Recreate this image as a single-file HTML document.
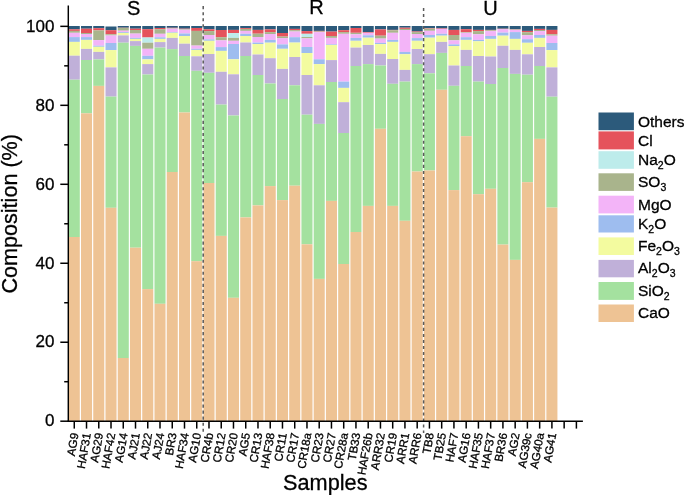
<!DOCTYPE html><html><head><meta charset="utf-8"><style>
html,body{margin:0;padding:0;background:#fff;}body{width:685px;height:495px;overflow:hidden;}
svg{display:block;font-family:"Liberation Sans",sans-serif;will-change:transform;}text{stroke:#000;stroke-width:0.3px;}
</style></head><body>
<svg width="685" height="495" viewBox="0 0 685 495">
<g shape-rendering="auto">
<rect x="68.75" y="26.00" width="11.05" height="3.30" fill="#2c5a7b"/>
<rect x="68.75" y="29.30" width="11.05" height="1.60" fill="#e5535c"/>
<rect x="68.75" y="30.90" width="11.05" height="1.90" fill="#a9b48c"/>
<rect x="68.75" y="32.80" width="11.05" height="4.30" fill="#f3b4f8"/>
<rect x="68.75" y="37.10" width="11.05" height="4.80" fill="#9ebdef"/>
<rect x="68.75" y="41.90" width="11.05" height="13.80" fill="#f3fb9f"/>
<rect x="68.75" y="55.70" width="11.05" height="24.00" fill="#c0b0d9"/>
<rect x="68.75" y="79.70" width="11.05" height="157.30" fill="#a4e19f"/>
<rect x="68.75" y="237.00" width="11.05" height="184.20" fill="#eec394"/>
<rect x="81.00" y="26.00" width="11.05" height="2.70" fill="#2c5a7b"/>
<rect x="81.00" y="28.70" width="11.05" height="4.30" fill="#e5535c"/>
<rect x="81.00" y="33.00" width="11.05" height="1.00" fill="#a9b48c"/>
<rect x="81.00" y="34.00" width="11.05" height="3.10" fill="#f3b4f8"/>
<rect x="81.00" y="37.10" width="11.05" height="2.80" fill="#9ebdef"/>
<rect x="81.00" y="39.90" width="11.05" height="9.00" fill="#f3fb9f"/>
<rect x="81.00" y="48.90" width="11.05" height="11.10" fill="#c0b0d9"/>
<rect x="81.00" y="60.00" width="11.05" height="53.30" fill="#a4e19f"/>
<rect x="81.00" y="113.30" width="11.05" height="307.90" fill="#eec394"/>
<rect x="93.24" y="26.00" width="11.05" height="2.20" fill="#2c5a7b"/>
<rect x="93.24" y="28.20" width="11.05" height="2.20" fill="#e5535c"/>
<rect x="93.24" y="30.40" width="11.05" height="9.70" fill="#a9b48c"/>
<rect x="93.24" y="40.10" width="11.05" height="5.60" fill="#f3b4f8"/>
<rect x="93.24" y="45.70" width="11.05" height="1.10" fill="#9ebdef"/>
<rect x="93.24" y="46.80" width="11.05" height="5.10" fill="#f3fb9f"/>
<rect x="93.24" y="51.90" width="11.05" height="7.50" fill="#c0b0d9"/>
<rect x="93.24" y="59.40" width="11.05" height="26.50" fill="#a4e19f"/>
<rect x="93.24" y="85.90" width="11.05" height="335.30" fill="#eec394"/>
<rect x="105.49" y="26.50" width="11.05" height="3.70" fill="#2c5a7b"/>
<rect x="105.49" y="30.20" width="11.05" height="4.10" fill="#e5535c"/>
<rect x="105.49" y="34.30" width="11.05" height="1.20" fill="#a9b48c"/>
<rect x="105.49" y="35.50" width="11.05" height="7.50" fill="#f3b4f8"/>
<rect x="105.49" y="43.00" width="11.05" height="7.10" fill="#9ebdef"/>
<rect x="105.49" y="50.10" width="11.05" height="17.30" fill="#f3fb9f"/>
<rect x="105.49" y="67.40" width="11.05" height="29.20" fill="#c0b0d9"/>
<rect x="105.49" y="96.60" width="11.05" height="111.20" fill="#a4e19f"/>
<rect x="105.49" y="207.80" width="11.05" height="213.40" fill="#eec394"/>
<rect x="117.74" y="26.00" width="11.05" height="1.70" fill="#2c5a7b"/>
<rect x="117.74" y="27.70" width="11.05" height="0.20" fill="#e5535c"/>
<rect x="117.74" y="27.90" width="11.05" height="2.80" fill="#a9b48c"/>
<rect x="117.74" y="30.70" width="11.05" height="1.30" fill="#f3b4f8"/>
<rect x="117.74" y="32.00" width="11.05" height="0.90" fill="#9ebdef"/>
<rect x="117.74" y="32.90" width="11.05" height="2.50" fill="#f3fb9f"/>
<rect x="117.74" y="35.40" width="11.05" height="7.30" fill="#c0b0d9"/>
<rect x="117.74" y="42.70" width="11.05" height="315.30" fill="#a4e19f"/>
<rect x="117.74" y="358.00" width="11.05" height="63.20" fill="#eec394"/>
<rect x="129.98" y="26.00" width="11.05" height="2.70" fill="#2c5a7b"/>
<rect x="129.98" y="28.70" width="11.05" height="1.30" fill="#e5535c"/>
<rect x="129.98" y="30.00" width="11.05" height="3.60" fill="#a9b48c"/>
<rect x="129.98" y="33.60" width="11.05" height="4.30" fill="#f3b4f8"/>
<rect x="129.98" y="37.90" width="11.05" height="1.00" fill="#9ebdef"/>
<rect x="129.98" y="38.90" width="11.05" height="2.20" fill="#f3fb9f"/>
<rect x="129.98" y="41.10" width="11.05" height="4.80" fill="#c0b0d9"/>
<rect x="129.98" y="45.90" width="11.05" height="201.80" fill="#a4e19f"/>
<rect x="129.98" y="247.70" width="11.05" height="173.50" fill="#eec394"/>
<rect x="142.23" y="26.00" width="11.05" height="3.20" fill="#2c5a7b"/>
<rect x="142.23" y="29.20" width="11.05" height="8.30" fill="#e5535c"/>
<rect x="142.23" y="37.50" width="11.05" height="5.20" fill="#bdeceb"/>
<rect x="142.23" y="42.70" width="11.05" height="6.10" fill="#a9b48c"/>
<rect x="142.23" y="48.80" width="11.05" height="7.00" fill="#f3b4f8"/>
<rect x="142.23" y="55.80" width="11.05" height="3.60" fill="#9ebdef"/>
<rect x="142.23" y="59.40" width="11.05" height="4.70" fill="#f3fb9f"/>
<rect x="142.23" y="64.10" width="11.05" height="10.40" fill="#c0b0d9"/>
<rect x="142.23" y="74.50" width="11.05" height="214.60" fill="#a4e19f"/>
<rect x="142.23" y="289.10" width="11.05" height="132.10" fill="#eec394"/>
<rect x="154.48" y="26.00" width="11.05" height="2.00" fill="#2c5a7b"/>
<rect x="154.48" y="28.00" width="11.05" height="1.30" fill="#e5535c"/>
<rect x="154.48" y="29.30" width="11.05" height="4.50" fill="#a9b48c"/>
<rect x="154.48" y="33.80" width="11.05" height="3.50" fill="#f3b4f8"/>
<rect x="154.48" y="37.30" width="11.05" height="1.60" fill="#9ebdef"/>
<rect x="154.48" y="38.90" width="11.05" height="3.20" fill="#f3fb9f"/>
<rect x="154.48" y="42.10" width="11.05" height="5.50" fill="#c0b0d9"/>
<rect x="154.48" y="47.60" width="11.05" height="256.20" fill="#a4e19f"/>
<rect x="154.48" y="303.80" width="11.05" height="117.40" fill="#eec394"/>
<rect x="166.73" y="26.00" width="11.05" height="1.80" fill="#2c5a7b"/>
<rect x="166.73" y="27.80" width="11.05" height="0.40" fill="#e5535c"/>
<rect x="166.73" y="28.20" width="11.05" height="0.50" fill="#a9b48c"/>
<rect x="166.73" y="28.70" width="11.05" height="3.40" fill="#f3b4f8"/>
<rect x="166.73" y="32.10" width="11.05" height="0.70" fill="#9ebdef"/>
<rect x="166.73" y="32.80" width="11.05" height="5.10" fill="#f3fb9f"/>
<rect x="166.73" y="37.90" width="11.05" height="11.20" fill="#c0b0d9"/>
<rect x="166.73" y="49.10" width="11.05" height="122.90" fill="#a4e19f"/>
<rect x="166.73" y="172.00" width="11.05" height="249.20" fill="#eec394"/>
<rect x="178.97" y="26.00" width="11.05" height="2.70" fill="#2c5a7b"/>
<rect x="178.97" y="28.70" width="11.05" height="0.30" fill="#e5535c"/>
<rect x="178.97" y="29.00" width="11.05" height="0.70" fill="#a9b48c"/>
<rect x="178.97" y="29.70" width="11.05" height="3.80" fill="#f3b4f8"/>
<rect x="178.97" y="33.50" width="11.05" height="2.50" fill="#9ebdef"/>
<rect x="178.97" y="36.00" width="11.05" height="7.70" fill="#f3fb9f"/>
<rect x="178.97" y="43.70" width="11.05" height="12.30" fill="#c0b0d9"/>
<rect x="178.97" y="56.00" width="11.05" height="56.50" fill="#a4e19f"/>
<rect x="178.97" y="112.50" width="11.05" height="308.70" fill="#eec394"/>
<rect x="191.22" y="26.00" width="11.05" height="2.00" fill="#2c5a7b"/>
<rect x="191.22" y="28.00" width="11.05" height="2.90" fill="#e5535c"/>
<rect x="191.22" y="30.90" width="11.05" height="14.70" fill="#a9b48c"/>
<rect x="191.22" y="45.60" width="11.05" height="3.20" fill="#f3b4f8"/>
<rect x="191.22" y="48.80" width="11.05" height="1.10" fill="#9ebdef"/>
<rect x="191.22" y="49.90" width="11.05" height="6.40" fill="#f3fb9f"/>
<rect x="191.22" y="56.30" width="11.05" height="14.50" fill="#c0b0d9"/>
<rect x="191.22" y="70.80" width="11.05" height="190.40" fill="#a4e19f"/>
<rect x="191.22" y="261.20" width="11.05" height="160.00" fill="#eec394"/>
<rect x="203.47" y="26.00" width="11.05" height="3.30" fill="#2c5a7b"/>
<rect x="203.47" y="29.30" width="11.05" height="1.80" fill="#e5535c"/>
<rect x="203.47" y="31.10" width="11.05" height="3.90" fill="#a9b48c"/>
<rect x="203.47" y="35.00" width="11.05" height="4.40" fill="#f3b4f8"/>
<rect x="203.47" y="39.40" width="11.05" height="1.40" fill="#9ebdef"/>
<rect x="203.47" y="40.80" width="11.05" height="13.20" fill="#f3fb9f"/>
<rect x="203.47" y="54.00" width="11.05" height="18.80" fill="#c0b0d9"/>
<rect x="203.47" y="72.80" width="11.05" height="110.20" fill="#a4e19f"/>
<rect x="203.47" y="183.00" width="11.05" height="238.20" fill="#eec394"/>
<rect x="215.71" y="26.00" width="11.05" height="4.00" fill="#2c5a7b"/>
<rect x="215.71" y="30.00" width="11.05" height="7.20" fill="#e5535c"/>
<rect x="215.71" y="37.20" width="11.05" height="3.20" fill="#a9b48c"/>
<rect x="215.71" y="40.40" width="11.05" height="6.70" fill="#f3b4f8"/>
<rect x="215.71" y="47.10" width="11.05" height="3.80" fill="#9ebdef"/>
<rect x="215.71" y="50.90" width="11.05" height="20.90" fill="#f3fb9f"/>
<rect x="215.71" y="71.80" width="11.05" height="32.80" fill="#c0b0d9"/>
<rect x="215.71" y="104.60" width="11.05" height="131.30" fill="#a4e19f"/>
<rect x="215.71" y="235.90" width="11.05" height="185.30" fill="#eec394"/>
<rect x="227.96" y="26.00" width="11.05" height="3.90" fill="#2c5a7b"/>
<rect x="227.96" y="29.90" width="11.05" height="3.20" fill="#e5535c"/>
<rect x="227.96" y="33.10" width="11.05" height="4.80" fill="#bdeceb"/>
<rect x="227.96" y="37.90" width="11.05" height="2.90" fill="#a9b48c"/>
<rect x="227.96" y="40.80" width="11.05" height="3.20" fill="#f3b4f8"/>
<rect x="227.96" y="44.00" width="11.05" height="15.30" fill="#9ebdef"/>
<rect x="227.96" y="59.30" width="11.05" height="15.00" fill="#f3fb9f"/>
<rect x="227.96" y="74.30" width="11.05" height="41.20" fill="#c0b0d9"/>
<rect x="227.96" y="115.50" width="11.05" height="182.30" fill="#a4e19f"/>
<rect x="227.96" y="297.80" width="11.05" height="123.40" fill="#eec394"/>
<rect x="240.21" y="26.00" width="11.05" height="2.00" fill="#2c5a7b"/>
<rect x="240.21" y="28.00" width="11.05" height="0.90" fill="#e5535c"/>
<rect x="240.21" y="28.90" width="11.05" height="2.00" fill="#a9b48c"/>
<rect x="240.21" y="30.90" width="11.05" height="2.90" fill="#f3b4f8"/>
<rect x="240.21" y="33.80" width="11.05" height="2.20" fill="#9ebdef"/>
<rect x="240.21" y="36.00" width="11.05" height="6.50" fill="#f3fb9f"/>
<rect x="240.21" y="42.50" width="11.05" height="13.50" fill="#c0b0d9"/>
<rect x="240.21" y="56.00" width="11.05" height="161.40" fill="#a4e19f"/>
<rect x="240.21" y="217.40" width="11.05" height="203.80" fill="#eec394"/>
<rect x="252.45" y="26.00" width="11.05" height="3.90" fill="#2c5a7b"/>
<rect x="252.45" y="29.90" width="11.05" height="3.80" fill="#e5535c"/>
<rect x="252.45" y="33.70" width="11.05" height="3.30" fill="#a9b48c"/>
<rect x="252.45" y="37.00" width="11.05" height="5.60" fill="#f3b4f8"/>
<rect x="252.45" y="42.60" width="11.05" height="1.40" fill="#9ebdef"/>
<rect x="252.45" y="44.00" width="11.05" height="10.50" fill="#f3fb9f"/>
<rect x="252.45" y="54.50" width="11.05" height="20.50" fill="#c0b0d9"/>
<rect x="252.45" y="75.00" width="11.05" height="130.40" fill="#a4e19f"/>
<rect x="252.45" y="205.40" width="11.05" height="215.80" fill="#eec394"/>
<rect x="264.70" y="26.00" width="11.05" height="3.40" fill="#2c5a7b"/>
<rect x="264.70" y="29.40" width="11.05" height="2.70" fill="#e5535c"/>
<rect x="264.70" y="32.10" width="11.05" height="1.90" fill="#a9b48c"/>
<rect x="264.70" y="34.00" width="11.05" height="5.90" fill="#f3b4f8"/>
<rect x="264.70" y="39.90" width="11.05" height="2.80" fill="#9ebdef"/>
<rect x="264.70" y="42.70" width="11.05" height="15.50" fill="#f3fb9f"/>
<rect x="264.70" y="58.20" width="11.05" height="25.30" fill="#c0b0d9"/>
<rect x="264.70" y="83.50" width="11.05" height="102.60" fill="#a4e19f"/>
<rect x="264.70" y="186.10" width="11.05" height="235.10" fill="#eec394"/>
<rect x="276.95" y="26.00" width="11.05" height="7.00" fill="#2c5a7b"/>
<rect x="276.95" y="33.00" width="11.05" height="3.60" fill="#e5535c"/>
<rect x="276.95" y="36.60" width="11.05" height="1.50" fill="#a9b48c"/>
<rect x="276.95" y="38.10" width="11.05" height="6.30" fill="#f3b4f8"/>
<rect x="276.95" y="44.40" width="11.05" height="4.40" fill="#9ebdef"/>
<rect x="276.95" y="48.80" width="11.05" height="20.10" fill="#f3fb9f"/>
<rect x="276.95" y="68.90" width="11.05" height="30.10" fill="#c0b0d9"/>
<rect x="276.95" y="99.00" width="11.05" height="101.10" fill="#a4e19f"/>
<rect x="276.95" y="200.10" width="11.05" height="221.10" fill="#eec394"/>
<rect x="289.20" y="26.00" width="11.05" height="2.90" fill="#2c5a7b"/>
<rect x="289.20" y="28.90" width="11.05" height="1.30" fill="#e5535c"/>
<rect x="289.20" y="30.20" width="11.05" height="1.30" fill="#a9b48c"/>
<rect x="289.20" y="31.50" width="11.05" height="5.70" fill="#f3b4f8"/>
<rect x="289.20" y="37.20" width="11.05" height="5.40" fill="#9ebdef"/>
<rect x="289.20" y="42.60" width="11.05" height="14.40" fill="#f3fb9f"/>
<rect x="289.20" y="57.00" width="11.05" height="28.30" fill="#c0b0d9"/>
<rect x="289.20" y="85.30" width="11.05" height="100.40" fill="#a4e19f"/>
<rect x="289.20" y="185.70" width="11.05" height="235.50" fill="#eec394"/>
<rect x="301.44" y="26.00" width="11.05" height="5.10" fill="#2c5a7b"/>
<rect x="301.44" y="31.10" width="11.05" height="2.70" fill="#e5535c"/>
<rect x="301.44" y="33.80" width="11.05" height="3.20" fill="#bdeceb"/>
<rect x="301.44" y="37.00" width="11.05" height="1.40" fill="#a9b48c"/>
<rect x="301.44" y="38.40" width="11.05" height="8.60" fill="#f3b4f8"/>
<rect x="301.44" y="47.00" width="11.05" height="6.00" fill="#9ebdef"/>
<rect x="301.44" y="53.00" width="11.05" height="22.00" fill="#f3fb9f"/>
<rect x="301.44" y="75.00" width="11.05" height="39.70" fill="#c0b0d9"/>
<rect x="301.44" y="114.70" width="11.05" height="129.60" fill="#a4e19f"/>
<rect x="301.44" y="244.30" width="11.05" height="176.90" fill="#eec394"/>
<rect x="313.69" y="26.00" width="11.05" height="4.90" fill="#2c5a7b"/>
<rect x="313.69" y="30.90" width="11.05" height="0.60" fill="#e5535c"/>
<rect x="313.69" y="31.50" width="11.05" height="0.60" fill="#a9b48c"/>
<rect x="313.69" y="32.10" width="11.05" height="27.20" fill="#f3b4f8"/>
<rect x="313.69" y="59.30" width="11.05" height="4.80" fill="#9ebdef"/>
<rect x="313.69" y="64.10" width="11.05" height="21.20" fill="#f3fb9f"/>
<rect x="313.69" y="85.30" width="11.05" height="38.60" fill="#c0b0d9"/>
<rect x="313.69" y="123.90" width="11.05" height="155.00" fill="#a4e19f"/>
<rect x="313.69" y="278.90" width="11.05" height="142.30" fill="#eec394"/>
<rect x="325.94" y="26.00" width="11.05" height="5.60" fill="#2c5a7b"/>
<rect x="325.94" y="31.60" width="11.05" height="4.40" fill="#e5535c"/>
<rect x="325.94" y="36.00" width="11.05" height="1.90" fill="#a9b48c"/>
<rect x="325.94" y="37.90" width="11.05" height="6.50" fill="#f3b4f8"/>
<rect x="325.94" y="44.40" width="11.05" height="0.60" fill="#9ebdef"/>
<rect x="325.94" y="45.00" width="11.05" height="15.10" fill="#f3fb9f"/>
<rect x="325.94" y="60.10" width="11.05" height="21.90" fill="#c0b0d9"/>
<rect x="325.94" y="82.00" width="11.05" height="118.90" fill="#a4e19f"/>
<rect x="325.94" y="200.90" width="11.05" height="220.30" fill="#eec394"/>
<rect x="338.18" y="26.00" width="11.05" height="4.20" fill="#2c5a7b"/>
<rect x="338.18" y="30.20" width="11.05" height="1.90" fill="#e5535c"/>
<rect x="338.18" y="32.10" width="11.05" height="1.70" fill="#a9b48c"/>
<rect x="338.18" y="33.80" width="11.05" height="47.80" fill="#f3b4f8"/>
<rect x="338.18" y="81.60" width="11.05" height="6.30" fill="#9ebdef"/>
<rect x="338.18" y="87.90" width="11.05" height="14.30" fill="#f3fb9f"/>
<rect x="338.18" y="102.20" width="11.05" height="30.80" fill="#c0b0d9"/>
<rect x="338.18" y="133.00" width="11.05" height="131.00" fill="#a4e19f"/>
<rect x="338.18" y="264.00" width="11.05" height="157.20" fill="#eec394"/>
<rect x="350.43" y="26.00" width="11.05" height="2.00" fill="#2c5a7b"/>
<rect x="350.43" y="28.00" width="11.05" height="4.80" fill="#e5535c"/>
<rect x="350.43" y="32.80" width="11.05" height="1.50" fill="#a9b48c"/>
<rect x="350.43" y="34.30" width="11.05" height="3.60" fill="#f3b4f8"/>
<rect x="350.43" y="37.90" width="11.05" height="2.90" fill="#9ebdef"/>
<rect x="350.43" y="40.80" width="11.05" height="6.80" fill="#f3fb9f"/>
<rect x="350.43" y="47.60" width="11.05" height="18.40" fill="#c0b0d9"/>
<rect x="350.43" y="66.00" width="11.05" height="166.00" fill="#a4e19f"/>
<rect x="350.43" y="232.00" width="11.05" height="189.20" fill="#eec394"/>
<rect x="362.68" y="26.00" width="11.05" height="6.10" fill="#2c5a7b"/>
<rect x="362.68" y="32.10" width="11.05" height="0.70" fill="#e5535c"/>
<rect x="362.68" y="32.80" width="11.05" height="2.50" fill="#f3b4f8"/>
<rect x="362.68" y="35.30" width="11.05" height="2.40" fill="#9ebdef"/>
<rect x="362.68" y="37.70" width="11.05" height="7.30" fill="#f3fb9f"/>
<rect x="362.68" y="45.00" width="11.05" height="19.10" fill="#c0b0d9"/>
<rect x="362.68" y="64.10" width="11.05" height="141.80" fill="#a4e19f"/>
<rect x="362.68" y="205.90" width="11.05" height="215.30" fill="#eec394"/>
<rect x="374.93" y="26.00" width="11.05" height="3.40" fill="#2c5a7b"/>
<rect x="374.93" y="29.40" width="11.05" height="6.30" fill="#e5535c"/>
<rect x="374.93" y="35.70" width="11.05" height="2.90" fill="#a9b48c"/>
<rect x="374.93" y="38.60" width="11.05" height="4.30" fill="#f3b4f8"/>
<rect x="374.93" y="42.90" width="11.05" height="1.20" fill="#9ebdef"/>
<rect x="374.93" y="44.10" width="11.05" height="9.80" fill="#f3fb9f"/>
<rect x="374.93" y="53.90" width="11.05" height="11.60" fill="#c0b0d9"/>
<rect x="374.93" y="65.50" width="11.05" height="63.30" fill="#a4e19f"/>
<rect x="374.93" y="128.80" width="11.05" height="292.40" fill="#eec394"/>
<rect x="387.17" y="26.00" width="11.05" height="3.90" fill="#2c5a7b"/>
<rect x="387.17" y="29.90" width="11.05" height="0.40" fill="#e5535c"/>
<rect x="387.17" y="30.30" width="11.05" height="2.50" fill="#a9b48c"/>
<rect x="387.17" y="32.80" width="11.05" height="7.10" fill="#f3b4f8"/>
<rect x="387.17" y="39.90" width="11.05" height="2.00" fill="#9ebdef"/>
<rect x="387.17" y="41.90" width="11.05" height="17.10" fill="#f3fb9f"/>
<rect x="387.17" y="59.00" width="11.05" height="24.80" fill="#c0b0d9"/>
<rect x="387.17" y="83.80" width="11.05" height="122.10" fill="#a4e19f"/>
<rect x="387.17" y="205.90" width="11.05" height="215.30" fill="#eec394"/>
<rect x="399.42" y="26.00" width="11.05" height="1.70" fill="#2c5a7b"/>
<rect x="399.42" y="27.70" width="11.05" height="1.20" fill="#e5535c"/>
<rect x="399.42" y="28.90" width="11.05" height="1.10" fill="#a9b48c"/>
<rect x="399.42" y="30.00" width="11.05" height="21.90" fill="#f3b4f8"/>
<rect x="399.42" y="51.90" width="11.05" height="2.30" fill="#9ebdef"/>
<rect x="399.42" y="54.20" width="11.05" height="15.70" fill="#f3fb9f"/>
<rect x="399.42" y="69.90" width="11.05" height="11.70" fill="#c0b0d9"/>
<rect x="399.42" y="81.60" width="11.05" height="139.20" fill="#a4e19f"/>
<rect x="399.42" y="220.80" width="11.05" height="200.40" fill="#eec394"/>
<rect x="411.67" y="26.00" width="11.05" height="5.50" fill="#2c5a7b"/>
<rect x="411.67" y="31.50" width="11.05" height="0.60" fill="#e5535c"/>
<rect x="411.67" y="32.10" width="11.05" height="1.90" fill="#a9b48c"/>
<rect x="411.67" y="34.00" width="11.05" height="4.10" fill="#f3b4f8"/>
<rect x="411.67" y="38.10" width="11.05" height="2.70" fill="#9ebdef"/>
<rect x="411.67" y="40.80" width="11.05" height="8.20" fill="#f3fb9f"/>
<rect x="411.67" y="49.00" width="11.05" height="15.10" fill="#c0b0d9"/>
<rect x="411.67" y="64.10" width="11.05" height="107.40" fill="#a4e19f"/>
<rect x="411.67" y="171.50" width="11.05" height="249.70" fill="#eec394"/>
<rect x="423.91" y="26.00" width="11.05" height="2.00" fill="#2c5a7b"/>
<rect x="423.91" y="28.00" width="11.05" height="0.60" fill="#e5535c"/>
<rect x="423.91" y="28.60" width="11.05" height="2.20" fill="#a9b48c"/>
<rect x="423.91" y="30.80" width="11.05" height="4.20" fill="#f3b4f8"/>
<rect x="423.91" y="35.00" width="11.05" height="2.70" fill="#9ebdef"/>
<rect x="423.91" y="37.70" width="11.05" height="16.50" fill="#f3fb9f"/>
<rect x="423.91" y="54.20" width="11.05" height="19.10" fill="#c0b0d9"/>
<rect x="423.91" y="73.30" width="11.05" height="97.20" fill="#a4e19f"/>
<rect x="423.91" y="170.50" width="11.05" height="250.70" fill="#eec394"/>
<rect x="436.16" y="26.00" width="11.05" height="2.40" fill="#2c5a7b"/>
<rect x="436.16" y="28.40" width="11.05" height="0.50" fill="#e5535c"/>
<rect x="436.16" y="28.90" width="11.05" height="4.90" fill="#f3b4f8"/>
<rect x="436.16" y="33.80" width="11.05" height="1.90" fill="#9ebdef"/>
<rect x="436.16" y="35.70" width="11.05" height="6.20" fill="#f3fb9f"/>
<rect x="436.16" y="41.90" width="11.05" height="11.00" fill="#c0b0d9"/>
<rect x="436.16" y="52.90" width="11.05" height="36.90" fill="#a4e19f"/>
<rect x="436.16" y="89.80" width="11.05" height="331.40" fill="#eec394"/>
<rect x="448.41" y="26.00" width="11.05" height="3.90" fill="#2c5a7b"/>
<rect x="448.41" y="29.90" width="11.05" height="5.10" fill="#e5535c"/>
<rect x="448.41" y="35.00" width="11.05" height="5.40" fill="#a9b48c"/>
<rect x="448.41" y="40.40" width="11.05" height="4.00" fill="#f3b4f8"/>
<rect x="448.41" y="44.40" width="11.05" height="1.60" fill="#9ebdef"/>
<rect x="448.41" y="46.00" width="11.05" height="19.50" fill="#f3fb9f"/>
<rect x="448.41" y="65.50" width="11.05" height="20.30" fill="#c0b0d9"/>
<rect x="448.41" y="85.80" width="11.05" height="104.30" fill="#a4e19f"/>
<rect x="448.41" y="190.10" width="11.05" height="231.10" fill="#eec394"/>
<rect x="460.65" y="26.00" width="11.05" height="3.20" fill="#2c5a7b"/>
<rect x="460.65" y="29.20" width="11.05" height="2.90" fill="#e5535c"/>
<rect x="460.65" y="32.10" width="11.05" height="0.70" fill="#a9b48c"/>
<rect x="460.65" y="32.80" width="11.05" height="4.40" fill="#f3b4f8"/>
<rect x="460.65" y="37.20" width="11.05" height="2.70" fill="#9ebdef"/>
<rect x="460.65" y="39.90" width="11.05" height="10.00" fill="#f3fb9f"/>
<rect x="460.65" y="49.90" width="11.05" height="16.10" fill="#c0b0d9"/>
<rect x="460.65" y="66.00" width="11.05" height="70.20" fill="#a4e19f"/>
<rect x="460.65" y="136.20" width="11.05" height="285.00" fill="#eec394"/>
<rect x="472.90" y="26.00" width="11.05" height="3.90" fill="#2c5a7b"/>
<rect x="472.90" y="29.90" width="11.05" height="1.20" fill="#e5535c"/>
<rect x="472.90" y="31.10" width="11.05" height="3.20" fill="#a9b48c"/>
<rect x="472.90" y="34.30" width="11.05" height="5.60" fill="#f3b4f8"/>
<rect x="472.90" y="39.90" width="11.05" height="1.40" fill="#9ebdef"/>
<rect x="472.90" y="41.30" width="11.05" height="14.70" fill="#f3fb9f"/>
<rect x="472.90" y="56.00" width="11.05" height="25.60" fill="#c0b0d9"/>
<rect x="472.90" y="81.60" width="11.05" height="112.60" fill="#a4e19f"/>
<rect x="472.90" y="194.20" width="11.05" height="227.00" fill="#eec394"/>
<rect x="485.15" y="26.00" width="11.05" height="3.90" fill="#2c5a7b"/>
<rect x="485.15" y="29.90" width="11.05" height="0.40" fill="#e5535c"/>
<rect x="485.15" y="30.30" width="11.05" height="0.80" fill="#a9b48c"/>
<rect x="485.15" y="31.10" width="11.05" height="4.90" fill="#f3b4f8"/>
<rect x="485.15" y="36.00" width="11.05" height="2.90" fill="#9ebdef"/>
<rect x="485.15" y="38.90" width="11.05" height="17.60" fill="#f3fb9f"/>
<rect x="485.15" y="56.50" width="11.05" height="27.50" fill="#c0b0d9"/>
<rect x="485.15" y="84.00" width="11.05" height="104.80" fill="#a4e19f"/>
<rect x="485.15" y="188.80" width="11.05" height="232.40" fill="#eec394"/>
<rect x="497.39" y="26.00" width="11.05" height="2.70" fill="#2c5a7b"/>
<rect x="497.39" y="28.70" width="11.05" height="0.20" fill="#e5535c"/>
<rect x="497.39" y="28.90" width="11.05" height="0.30" fill="#a9b48c"/>
<rect x="497.39" y="29.20" width="11.05" height="3.40" fill="#f3b4f8"/>
<rect x="497.39" y="32.60" width="11.05" height="3.10" fill="#9ebdef"/>
<rect x="497.39" y="35.70" width="11.05" height="10.10" fill="#f3fb9f"/>
<rect x="497.39" y="45.80" width="11.05" height="22.20" fill="#c0b0d9"/>
<rect x="497.39" y="68.00" width="11.05" height="176.60" fill="#a4e19f"/>
<rect x="497.39" y="244.60" width="11.05" height="176.60" fill="#eec394"/>
<rect x="509.64" y="26.00" width="11.05" height="3.20" fill="#2c5a7b"/>
<rect x="509.64" y="29.20" width="11.05" height="0.30" fill="#e5535c"/>
<rect x="509.64" y="29.50" width="11.05" height="0.40" fill="#a9b48c"/>
<rect x="509.64" y="29.90" width="11.05" height="2.20" fill="#f3b4f8"/>
<rect x="509.64" y="32.10" width="11.05" height="6.80" fill="#9ebdef"/>
<rect x="509.64" y="38.90" width="11.05" height="11.00" fill="#f3fb9f"/>
<rect x="509.64" y="49.90" width="11.05" height="24.00" fill="#c0b0d9"/>
<rect x="509.64" y="73.90" width="11.05" height="186.00" fill="#a4e19f"/>
<rect x="509.64" y="259.90" width="11.05" height="161.30" fill="#eec394"/>
<rect x="521.89" y="26.00" width="11.05" height="4.90" fill="#2c5a7b"/>
<rect x="521.89" y="30.90" width="11.05" height="1.30" fill="#e5535c"/>
<rect x="521.89" y="32.20" width="11.05" height="3.10" fill="#a9b48c"/>
<rect x="521.89" y="35.30" width="11.05" height="3.90" fill="#f3b4f8"/>
<rect x="521.89" y="39.20" width="11.05" height="3.60" fill="#9ebdef"/>
<rect x="521.89" y="42.80" width="11.05" height="11.50" fill="#f3fb9f"/>
<rect x="521.89" y="54.30" width="11.05" height="20.40" fill="#c0b0d9"/>
<rect x="521.89" y="74.70" width="11.05" height="107.50" fill="#a4e19f"/>
<rect x="521.89" y="182.20" width="11.05" height="239.00" fill="#eec394"/>
<rect x="534.14" y="26.00" width="11.05" height="2.90" fill="#2c5a7b"/>
<rect x="534.14" y="28.90" width="11.05" height="1.10" fill="#e5535c"/>
<rect x="534.14" y="30.00" width="11.05" height="1.10" fill="#a9b48c"/>
<rect x="534.14" y="31.10" width="11.05" height="3.90" fill="#f3b4f8"/>
<rect x="534.14" y="35.00" width="11.05" height="2.90" fill="#9ebdef"/>
<rect x="534.14" y="37.90" width="11.05" height="9.10" fill="#f3fb9f"/>
<rect x="534.14" y="47.00" width="11.05" height="19.00" fill="#c0b0d9"/>
<rect x="534.14" y="66.00" width="11.05" height="72.90" fill="#a4e19f"/>
<rect x="534.14" y="138.90" width="11.05" height="282.30" fill="#eec394"/>
<rect x="546.38" y="26.00" width="11.05" height="3.90" fill="#2c5a7b"/>
<rect x="546.38" y="29.90" width="11.05" height="4.40" fill="#e5535c"/>
<rect x="546.38" y="34.30" width="11.05" height="1.40" fill="#a9b48c"/>
<rect x="546.38" y="35.70" width="11.05" height="7.30" fill="#f3b4f8"/>
<rect x="546.38" y="43.00" width="11.05" height="7.10" fill="#9ebdef"/>
<rect x="546.38" y="50.10" width="11.05" height="17.30" fill="#f3fb9f"/>
<rect x="546.38" y="67.40" width="11.05" height="29.30" fill="#c0b0d9"/>
<rect x="546.38" y="96.70" width="11.05" height="110.90" fill="#a4e19f"/>
<rect x="546.38" y="207.60" width="11.05" height="213.60" fill="#eec394"/>
</g>
<line x1="203.2" y1="6.1" x2="203.2" y2="433" stroke="#5a5a5a" stroke-width="1.5" stroke-dasharray="3.1 2.937"/>
<line x1="423.6" y1="7.9" x2="423.6" y2="433" stroke="#5a5a5a" stroke-width="1.5" stroke-dasharray="3.1 2.937"/>
<g stroke="#000" stroke-width="1.5" fill="none">
<line x1="68.3" y1="5.6" x2="68.3" y2="421.95" stroke-width="1.45"/>
<line x1="67.6" y1="421.2" x2="582.9" y2="421.2" stroke-width="1.6"/>
<line x1="60.30" y1="421.20" x2="68.3" y2="421.20"/>
<line x1="64.20" y1="381.71" x2="68.3" y2="381.71"/>
<line x1="60.30" y1="342.23" x2="68.3" y2="342.23"/>
<line x1="64.20" y1="302.75" x2="68.3" y2="302.75"/>
<line x1="60.30" y1="263.26" x2="68.3" y2="263.26"/>
<line x1="64.20" y1="223.77" x2="68.3" y2="223.77"/>
<line x1="60.30" y1="184.29" x2="68.3" y2="184.29"/>
<line x1="64.20" y1="144.81" x2="68.3" y2="144.81"/>
<line x1="60.30" y1="105.32" x2="68.3" y2="105.32"/>
<line x1="64.20" y1="65.83" x2="68.3" y2="65.83"/>
<line x1="60.30" y1="26.35" x2="68.3" y2="26.35"/>
<line x1="74.27" y1="421.2" x2="74.27" y2="428.59999999999997"/>
<line x1="86.52" y1="421.2" x2="86.52" y2="428.59999999999997"/>
<line x1="98.77" y1="421.2" x2="98.77" y2="428.59999999999997"/>
<line x1="111.01" y1="421.2" x2="111.01" y2="428.59999999999997"/>
<line x1="123.26" y1="421.2" x2="123.26" y2="428.59999999999997"/>
<line x1="135.51" y1="421.2" x2="135.51" y2="428.59999999999997"/>
<line x1="147.76" y1="421.2" x2="147.76" y2="428.59999999999997"/>
<line x1="160.00" y1="421.2" x2="160.00" y2="428.59999999999997"/>
<line x1="172.25" y1="421.2" x2="172.25" y2="428.59999999999997"/>
<line x1="184.50" y1="421.2" x2="184.50" y2="428.59999999999997"/>
<line x1="196.74" y1="421.2" x2="196.74" y2="428.59999999999997"/>
<line x1="208.99" y1="421.2" x2="208.99" y2="428.59999999999997"/>
<line x1="221.24" y1="421.2" x2="221.24" y2="428.59999999999997"/>
<line x1="233.48" y1="421.2" x2="233.48" y2="428.59999999999997"/>
<line x1="245.73" y1="421.2" x2="245.73" y2="428.59999999999997"/>
<line x1="257.98" y1="421.2" x2="257.98" y2="428.59999999999997"/>
<line x1="270.23" y1="421.2" x2="270.23" y2="428.59999999999997"/>
<line x1="282.47" y1="421.2" x2="282.47" y2="428.59999999999997"/>
<line x1="294.72" y1="421.2" x2="294.72" y2="428.59999999999997"/>
<line x1="306.97" y1="421.2" x2="306.97" y2="428.59999999999997"/>
<line x1="319.21" y1="421.2" x2="319.21" y2="428.59999999999997"/>
<line x1="331.46" y1="421.2" x2="331.46" y2="428.59999999999997"/>
<line x1="343.71" y1="421.2" x2="343.71" y2="428.59999999999997"/>
<line x1="355.95" y1="421.2" x2="355.95" y2="428.59999999999997"/>
<line x1="368.20" y1="421.2" x2="368.20" y2="428.59999999999997"/>
<line x1="380.45" y1="421.2" x2="380.45" y2="428.59999999999997"/>
<line x1="392.70" y1="421.2" x2="392.70" y2="428.59999999999997"/>
<line x1="404.94" y1="421.2" x2="404.94" y2="428.59999999999997"/>
<line x1="417.19" y1="421.2" x2="417.19" y2="428.59999999999997"/>
<line x1="429.44" y1="421.2" x2="429.44" y2="428.59999999999997"/>
<line x1="441.68" y1="421.2" x2="441.68" y2="428.59999999999997"/>
<line x1="453.93" y1="421.2" x2="453.93" y2="428.59999999999997"/>
<line x1="466.18" y1="421.2" x2="466.18" y2="428.59999999999997"/>
<line x1="478.42" y1="421.2" x2="478.42" y2="428.59999999999997"/>
<line x1="490.67" y1="421.2" x2="490.67" y2="428.59999999999997"/>
<line x1="502.92" y1="421.2" x2="502.92" y2="428.59999999999997"/>
<line x1="515.17" y1="421.2" x2="515.17" y2="428.59999999999997"/>
<line x1="527.41" y1="421.2" x2="527.41" y2="428.59999999999997"/>
<line x1="539.66" y1="421.2" x2="539.66" y2="428.59999999999997"/>
<line x1="551.91" y1="421.2" x2="551.91" y2="428.59999999999997"/>
<line x1="564.15" y1="421.2" x2="564.15" y2="428.59999999999997"/>
<line x1="576.40" y1="421.2" x2="576.40" y2="428.59999999999997"/>
</g>
<text x="54.4" y="426.45" font-size="17" text-anchor="end" fill="#000">0</text>
<text x="54.4" y="347.48" font-size="17" text-anchor="end" fill="#000">20</text>
<text x="54.4" y="268.51" font-size="17" text-anchor="end" fill="#000">40</text>
<text x="54.4" y="189.54" font-size="17" text-anchor="end" fill="#000">60</text>
<text x="54.4" y="110.57" font-size="17" text-anchor="end" fill="#000">80</text>
<text x="54.4" y="31.60" font-size="17" text-anchor="end" fill="#000">100</text>
<text transform="translate(74.27,432.9) rotate(-80)" font-size="11.6" text-anchor="end" dominant-baseline="central" fill="#000">AG9</text>
<text transform="translate(86.52,432.9) rotate(-80)" font-size="11.6" text-anchor="end" dominant-baseline="central" fill="#000">HAF31</text>
<text transform="translate(98.77,432.9) rotate(-80)" font-size="11.6" text-anchor="end" dominant-baseline="central" fill="#000">AG29</text>
<text transform="translate(111.01,432.9) rotate(-80)" font-size="11.6" text-anchor="end" dominant-baseline="central" fill="#000">HAF42</text>
<text transform="translate(123.26,432.9) rotate(-80)" font-size="11.6" text-anchor="end" dominant-baseline="central" fill="#000">AG14</text>
<text transform="translate(135.51,432.9) rotate(-80)" font-size="11.6" text-anchor="end" dominant-baseline="central" fill="#000">AJ21</text>
<text transform="translate(147.76,432.9) rotate(-80)" font-size="11.6" text-anchor="end" dominant-baseline="central" fill="#000">AJ22</text>
<text transform="translate(160.00,432.9) rotate(-80)" font-size="11.6" text-anchor="end" dominant-baseline="central" fill="#000">AJ24</text>
<text transform="translate(172.25,432.9) rotate(-80)" font-size="11.6" text-anchor="end" dominant-baseline="central" fill="#000">BR3</text>
<text transform="translate(184.50,432.9) rotate(-80)" font-size="11.6" text-anchor="end" dominant-baseline="central" fill="#000">HAF34</text>
<text transform="translate(196.74,432.9) rotate(-80)" font-size="11.6" text-anchor="end" dominant-baseline="central" fill="#000">AG10</text>
<text transform="translate(208.99,432.9) rotate(-80)" font-size="11.6" text-anchor="end" dominant-baseline="central" fill="#000">CR4b</text>
<text transform="translate(221.24,432.9) rotate(-80)" font-size="11.6" text-anchor="end" dominant-baseline="central" fill="#000">CR12</text>
<text transform="translate(233.48,432.9) rotate(-80)" font-size="11.6" text-anchor="end" dominant-baseline="central" fill="#000">CR20</text>
<text transform="translate(245.73,432.9) rotate(-80)" font-size="11.6" text-anchor="end" dominant-baseline="central" fill="#000">AG5</text>
<text transform="translate(257.98,432.9) rotate(-80)" font-size="11.6" text-anchor="end" dominant-baseline="central" fill="#000">CR13</text>
<text transform="translate(270.23,432.9) rotate(-80)" font-size="11.6" text-anchor="end" dominant-baseline="central" fill="#000">HAF38</text>
<text transform="translate(282.47,432.9) rotate(-80)" font-size="11.6" text-anchor="end" dominant-baseline="central" fill="#000">CR11</text>
<text transform="translate(294.72,432.9) rotate(-80)" font-size="11.6" text-anchor="end" dominant-baseline="central" fill="#000">CR17</text>
<text transform="translate(306.97,432.9) rotate(-80)" font-size="11.6" text-anchor="end" dominant-baseline="central" fill="#000">CR18a</text>
<text transform="translate(319.21,432.9) rotate(-80)" font-size="11.6" text-anchor="end" dominant-baseline="central" fill="#000">CR23</text>
<text transform="translate(331.46,432.9) rotate(-80)" font-size="11.6" text-anchor="end" dominant-baseline="central" fill="#000">CR27</text>
<text transform="translate(343.71,432.9) rotate(-80)" font-size="11.6" text-anchor="end" dominant-baseline="central" fill="#000">CR28a</text>
<text transform="translate(355.95,432.9) rotate(-80)" font-size="11.6" text-anchor="end" dominant-baseline="central" fill="#000">TB33</text>
<text transform="translate(368.20,432.9) rotate(-80)" font-size="11.6" text-anchor="end" dominant-baseline="central" fill="#000">HAF26b</text>
<text transform="translate(380.45,432.9) rotate(-80)" font-size="11.6" text-anchor="end" dominant-baseline="central" fill="#000">ARR32</text>
<text transform="translate(392.70,432.9) rotate(-80)" font-size="11.6" text-anchor="end" dominant-baseline="central" fill="#000">CR19</text>
<text transform="translate(404.94,432.9) rotate(-80)" font-size="11.6" text-anchor="end" dominant-baseline="central" fill="#000">ARR1</text>
<text transform="translate(417.19,432.9) rotate(-80)" font-size="11.6" text-anchor="end" dominant-baseline="central" fill="#000">ARR6</text>
<text transform="translate(429.44,432.9) rotate(-80)" font-size="11.6" text-anchor="end" dominant-baseline="central" fill="#000">TB8</text>
<text transform="translate(441.68,432.9) rotate(-80)" font-size="11.6" text-anchor="end" dominant-baseline="central" fill="#000">TB25</text>
<text transform="translate(453.93,432.9) rotate(-80)" font-size="11.6" text-anchor="end" dominant-baseline="central" fill="#000">HAF7</text>
<text transform="translate(466.18,432.9) rotate(-80)" font-size="11.6" text-anchor="end" dominant-baseline="central" fill="#000">AG16</text>
<text transform="translate(478.42,432.9) rotate(-80)" font-size="11.6" text-anchor="end" dominant-baseline="central" fill="#000">HAF35</text>
<text transform="translate(490.67,432.9) rotate(-80)" font-size="11.6" text-anchor="end" dominant-baseline="central" fill="#000">HAF37</text>
<text transform="translate(502.92,432.9) rotate(-80)" font-size="11.6" text-anchor="end" dominant-baseline="central" fill="#000">BR36</text>
<text transform="translate(515.17,432.9) rotate(-80)" font-size="11.6" text-anchor="end" dominant-baseline="central" fill="#000">AG2</text>
<text transform="translate(527.41,432.9) rotate(-80)" font-size="11.6" text-anchor="end" dominant-baseline="central" fill="#000">AG39c</text>
<text transform="translate(539.66,432.9) rotate(-80)" font-size="11.6" text-anchor="end" dominant-baseline="central" fill="#000">AG40a</text>
<text transform="translate(551.91,432.9) rotate(-80)" font-size="11.6" text-anchor="end" dominant-baseline="central" fill="#000">AG41</text>
<text x="133.6" y="15.1" font-size="20" text-anchor="middle">S</text>
<text x="316.4" y="14.2" font-size="20" text-anchor="middle">R</text>
<text x="490.5" y="14.8" font-size="20" text-anchor="middle">U</text>
<text x="325.3" y="489.6" font-size="21.7" text-anchor="middle">Samples</text>
<text transform="translate(16.5,213.8) rotate(-90)" font-size="21.6" text-anchor="middle">Composition (%)</text>
<rect x="598.5" y="112.5" width="35.4" height="17.7" fill="#2c5a7b"/>
<text x="638" y="126.9" font-size="15.5" fill="#000">Others</text>
<rect x="598.5" y="131.4" width="35.4" height="18.0" fill="#e5535c"/>
<text x="638" y="145.9" font-size="15.5" fill="#000">Cl</text>
<rect x="598.5" y="151.2" width="35.4" height="17.6" fill="#bdeceb"/>
<text x="638" y="164.6" font-size="15.5" fill="#000">Na<tspan dy="4" font-size="10.5">2</tspan><tspan dy="-4">O</tspan></text>
<rect x="598.5" y="173.3" width="35.4" height="17.6" fill="#a9b48c"/>
<text x="638" y="186.7" font-size="15.5" fill="#000">SO<tspan dy="4" font-size="10.5">3</tspan></text>
<rect x="598.5" y="195.7" width="35.4" height="17.7" fill="#f3b4f8"/>
<text x="638" y="209.5" font-size="15.5" fill="#000">MgO</text>
<rect x="598.5" y="215.3" width="35.4" height="17.2" fill="#9ebdef"/>
<text x="638" y="229.0" font-size="15.5" fill="#000">K<tspan dy="4" font-size="10.5">2</tspan><tspan dy="-4">O</tspan></text>
<rect x="598.5" y="237.4" width="35.4" height="17.6" fill="#f3fb9f"/>
<text x="638" y="250.9" font-size="15.5" fill="#000">Fe<tspan dy="4" font-size="10.5">2</tspan><tspan dy="-4">O</tspan><tspan dy="4" font-size="10.5">3</tspan></text>
<rect x="598.5" y="259.9" width="35.4" height="17.4" fill="#c0b0d9"/>
<text x="638" y="273.1" font-size="15.5" fill="#000">Al<tspan dy="4" font-size="10.5">2</tspan><tspan dy="-4">O</tspan><tspan dy="4" font-size="10.5">3</tspan></text>
<rect x="598.5" y="282.0" width="35.4" height="17.9" fill="#a4e19f"/>
<text x="638" y="296.0" font-size="15.5" fill="#000">SiO<tspan dy="4" font-size="10.5">2</tspan></text>
<rect x="598.5" y="304.5" width="35.4" height="17.5" fill="#eec394"/>
<text x="638" y="318.1" font-size="15.5" fill="#000">CaO</text>
</svg></body></html>
